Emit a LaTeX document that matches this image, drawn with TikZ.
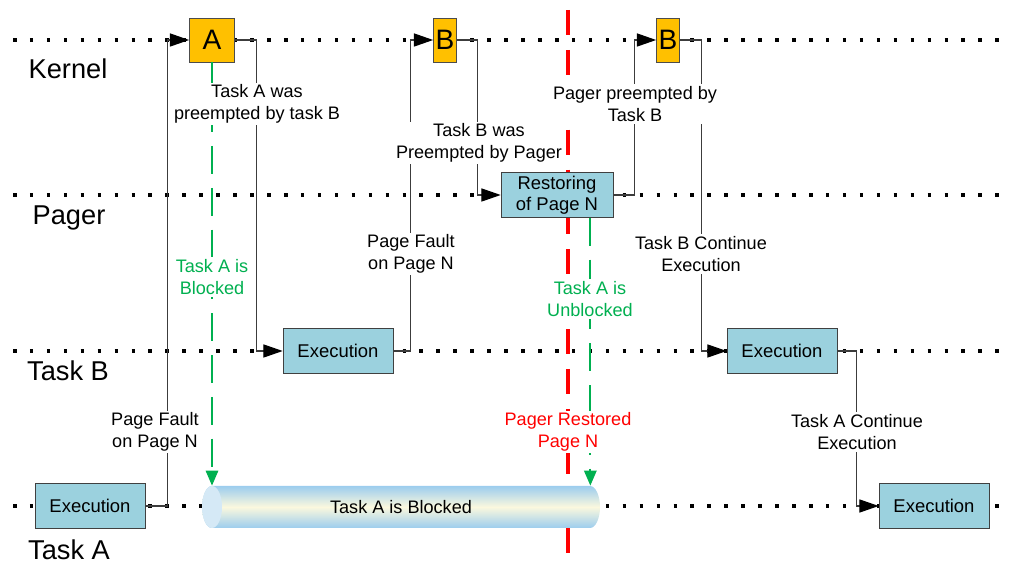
\documentclass[tikz,border=0pt]{standalone}
\usepackage{fontspec}
\setmainfont{Liberation Sans}
\usetikzlibrary{arrows.meta}

\definecolor{kernelorange}{HTML}{FFC000}
\definecolor{execblue}{HTML}{9BD1DE}
\definecolor{blockgreen}{HTML}{00B050}
\definecolor{cylblue}{HTML}{9CCDEE}
\definecolor{cylcream}{HTML}{FBF8DE}
\definecolor{cylcap}{HTML}{D5E9F6}
\definecolor{linegray}{HTML}{3C3C3C}

\tikzset{
  lane/.style={line width=2pt, dash pattern=on 2pt off 7.64pt},
  kbox/.style={draw=black!70, fill=kernelorange, minimum height=0.88cm, inner sep=0pt,
    font=\fontsize{16}{16}\selectfont},
  ebox/.style={draw=black!75, fill=execblue, minimum width=2.2cm, minimum height=0.9cm,
    inner sep=0pt, align=center, font=\fontsize{10.5}{12}\selectfont},
  lbl/.style={fill=white, inner sep=1pt, align=center, font=\fontsize{10.3}{12.8}\selectfont},
  lanename/.style={anchor=base, font=\fontsize{15.5}{15.5}\selectfont},
  flow/.style={draw=linegray, line width=0.6pt, -{Triangle[length=11pt,width=7.5pt,black]}},
  unblock/.style={draw=blockgreen, line width=1.1pt, dash pattern=on 15.9pt off 7.9pt,
    -{Triangle[length=8.5pt,width=7pt]}},
  restored/.style={draw=red, line width=2.2pt, dash pattern=on 14.2pt off 8.5pt}
}

\begin{document}
\begin{tikzpicture}[x=0.02cm, y=-0.02cm]
  \useasboundingbox (0,0) rectangle (1012,564);

  % lanes
  \draw[lane] (13,40) -- (1012,40);
  \draw[lane] (13,195) -- (1012,195);
  \draw[lane] (13,351) -- (1012,351);
  \draw[lane] (13,506) -- (1012,506);
  \path
    (68,79) node[lanename] (kernel){Kernel}
    (69,225) node[lanename] (pager){Pager}
    (68,381) node[lanename] (taskb){Task B}
    (69,560) node[lanename] (taska){Task A};

  % page restored mark
  \coordinate (redtop) at (568,10);
  \coordinate (redbot) at (568,564);
  \draw[restored] (redtop) -- (redbot);

  % blocked period of task A
  \shade[top color=cylblue, bottom color=cylblue, middle color=cylcream]
    (212,486) -- (590,486) arc (-90:90:10 and 21) -- (212,528) arc (90:270:10 and 21) -- cycle;
  \fill[cylcap] (212,507) ellipse (10 and 21);
  \node[minimum width=7.96cm, minimum height=0.84cm, inner sep=0pt,
    font=\fontsize{10.3}{12}\selectfont] (blocked) at (401,507) {Task A is Blocked};

  % boxes
  \path
    (212,40) node[kbox, minimum width=0.9cm] (kA){A}
    (445,40) node[kbox, minimum width=0.46cm] (kB1){B}
    (668,40) node[kbox, minimum width=0.46cm] (kB2){B}
    (557,195) node[ebox, minimum width=2.24cm] (restore){Restoring\\of Page N}
    (338,351) node[ebox] (execB1){Execution}
    (782,351) node[ebox] (execB2){Execution}
    (90,506) node[ebox] (execA1){Execution}
    (934,506) node[ebox] (execA2){Execution};

  % control flow
  \begin{scope}[flow]
    \draw (execA1.east) -- ++(22,0) |- (kA.west);
    \draw (kA.east) -- ++(22,0) |- (execB1.west);
    \draw (execB1.east) -- ++(17,0) |- (kB1.west);
    \draw (kB1.east) -- ++(21,0) |- (restore.west);
    \draw (restore.east) -- ++(21,0) |- (kB2.west);
    \draw (kB2.east) -- ++(22,0) |- (execB2.west);
    \draw (execB2.east) -- ++(19,0) |- (execA2.west);
  \end{scope}
  \draw[unblock] (kA.south) -- (kA.south |- blocked.north);
  \draw[unblock] ([xshift=-0.46cm]restore.south east) -- ([xshift=-0.46cm]restore.south east |- blocked.north);

  % labels
  \path
    (155,432) node[lbl] (faultA){Page Fault\\on Page N}
    (257,104) node[lbl] (preemptA){Task A was\\preempted by task B}
    (411,254) node[lbl] (faultB){Page Fault\\on Page N}
    (479,143) node[lbl] (preemptB){Task B was\\Preempted by Pager}
    (635,104) node[lbl] (preemptP){Pager preempted by\\Task B}
    (701,254) node[lbl] (contB){Task B Continue\\Execution}
    (857,432) node[lbl] (contA){Task A Continue\\Execution}
    (212,277) node[lbl, text=blockgreen] (isblocked){Task A is\\Blocked}
    (590,299) node[lbl, text=blockgreen] (isunblocked){Task A is\\Unblocked}
    (568,432) node[lbl, text=red] (isrestored){Pager Restored\\Page N};
\end{tikzpicture}
\end{document}
